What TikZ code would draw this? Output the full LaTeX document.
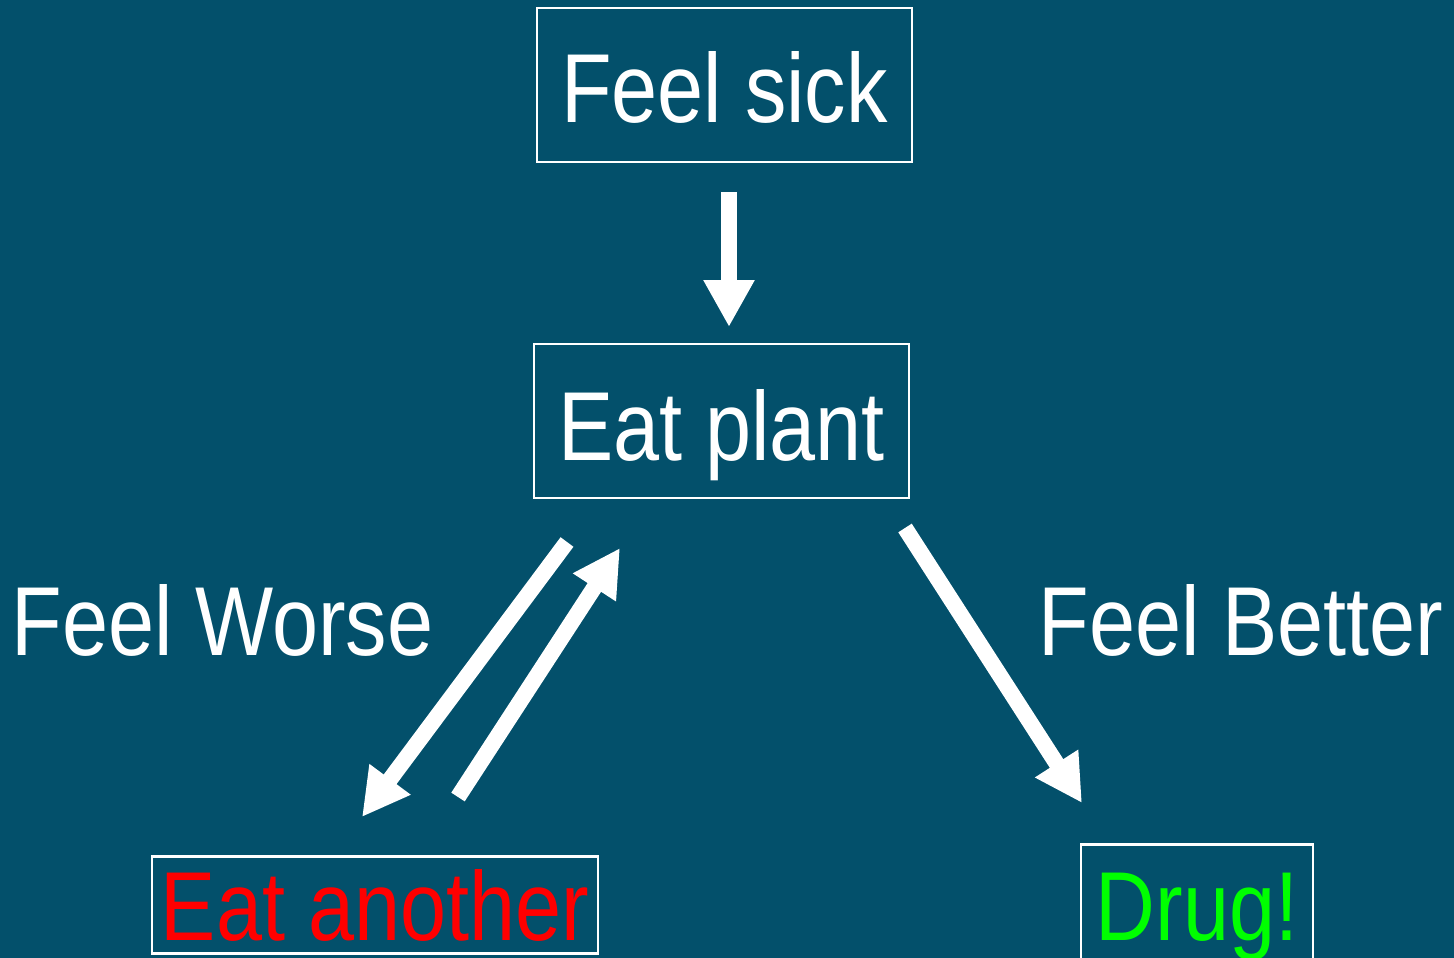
\documentclass[tikz,border=0pt]{standalone}
\usepackage{fontspec}
\setmainfont[FakeStretch=0.845]{Liberation Sans}
\usetikzlibrary{arrows.meta}
\definecolor{bgteal}{HTML}{03506B}
\definecolor{drugreen}{HTML}{00FF00}
\tikzset{
  box/.style={draw=white, line width=2.5pt, inner sep=0pt, text=white,
    font=\fontsize{98}{110}\selectfont, text height=70pt, text depth=0pt},
  lbl/.style={text=white, inner sep=0pt, font=\fontsize{98}{110}\selectfont, anchor=base},
  fatarrow/.style={draw=white, line width=16pt, -{Triangle[width=48pt,length=47pt]}}
}
\begin{document}
\begin{tikzpicture}[x=1pt,y=-1pt]
\clip (0,0) rectangle (1454,958);
\fill[bgteal] (0,0) rectangle (1454,958);
\node[box, minimum width=375pt, minimum height=154pt, text height=75pt] (sick) at (724.5,85) {Feel sick};
\node[box, minimum width=375pt, minimum height=154pt, text height=78pt] (plant) at (721.5,421) {Eat plant};
\node[box, minimum width=446pt, minimum height=97pt, text=red] (another) at (375,905) {Eat another};
\node[box, minimum width=232pt, minimum height=121pt, text=drugreen] (drug) at (1197,905) {Drug!};
\node[lbl] (worse) at (222.5,655) {Feel Worse};
\node[lbl] (better) at (1241,655) {Feel Better};
\coordinate (d1) at (729,192);
\coordinate (d2) at (729,327);
\coordinate (l1) at (567,542);
\coordinate (l2) at (362,817);
\coordinate (u1) at (458,797);
\coordinate (u2) at (620,548);
\coordinate (r1) at (905,528);
\coordinate (r2) at (1082,803);
\draw[fatarrow] (d1) -- (d2);
\draw[fatarrow] (l1) -- (l2);
\draw[fatarrow] (u1) -- (u2);
\draw[fatarrow] (r1) -- (r2);
\end{tikzpicture}
\end{document}
